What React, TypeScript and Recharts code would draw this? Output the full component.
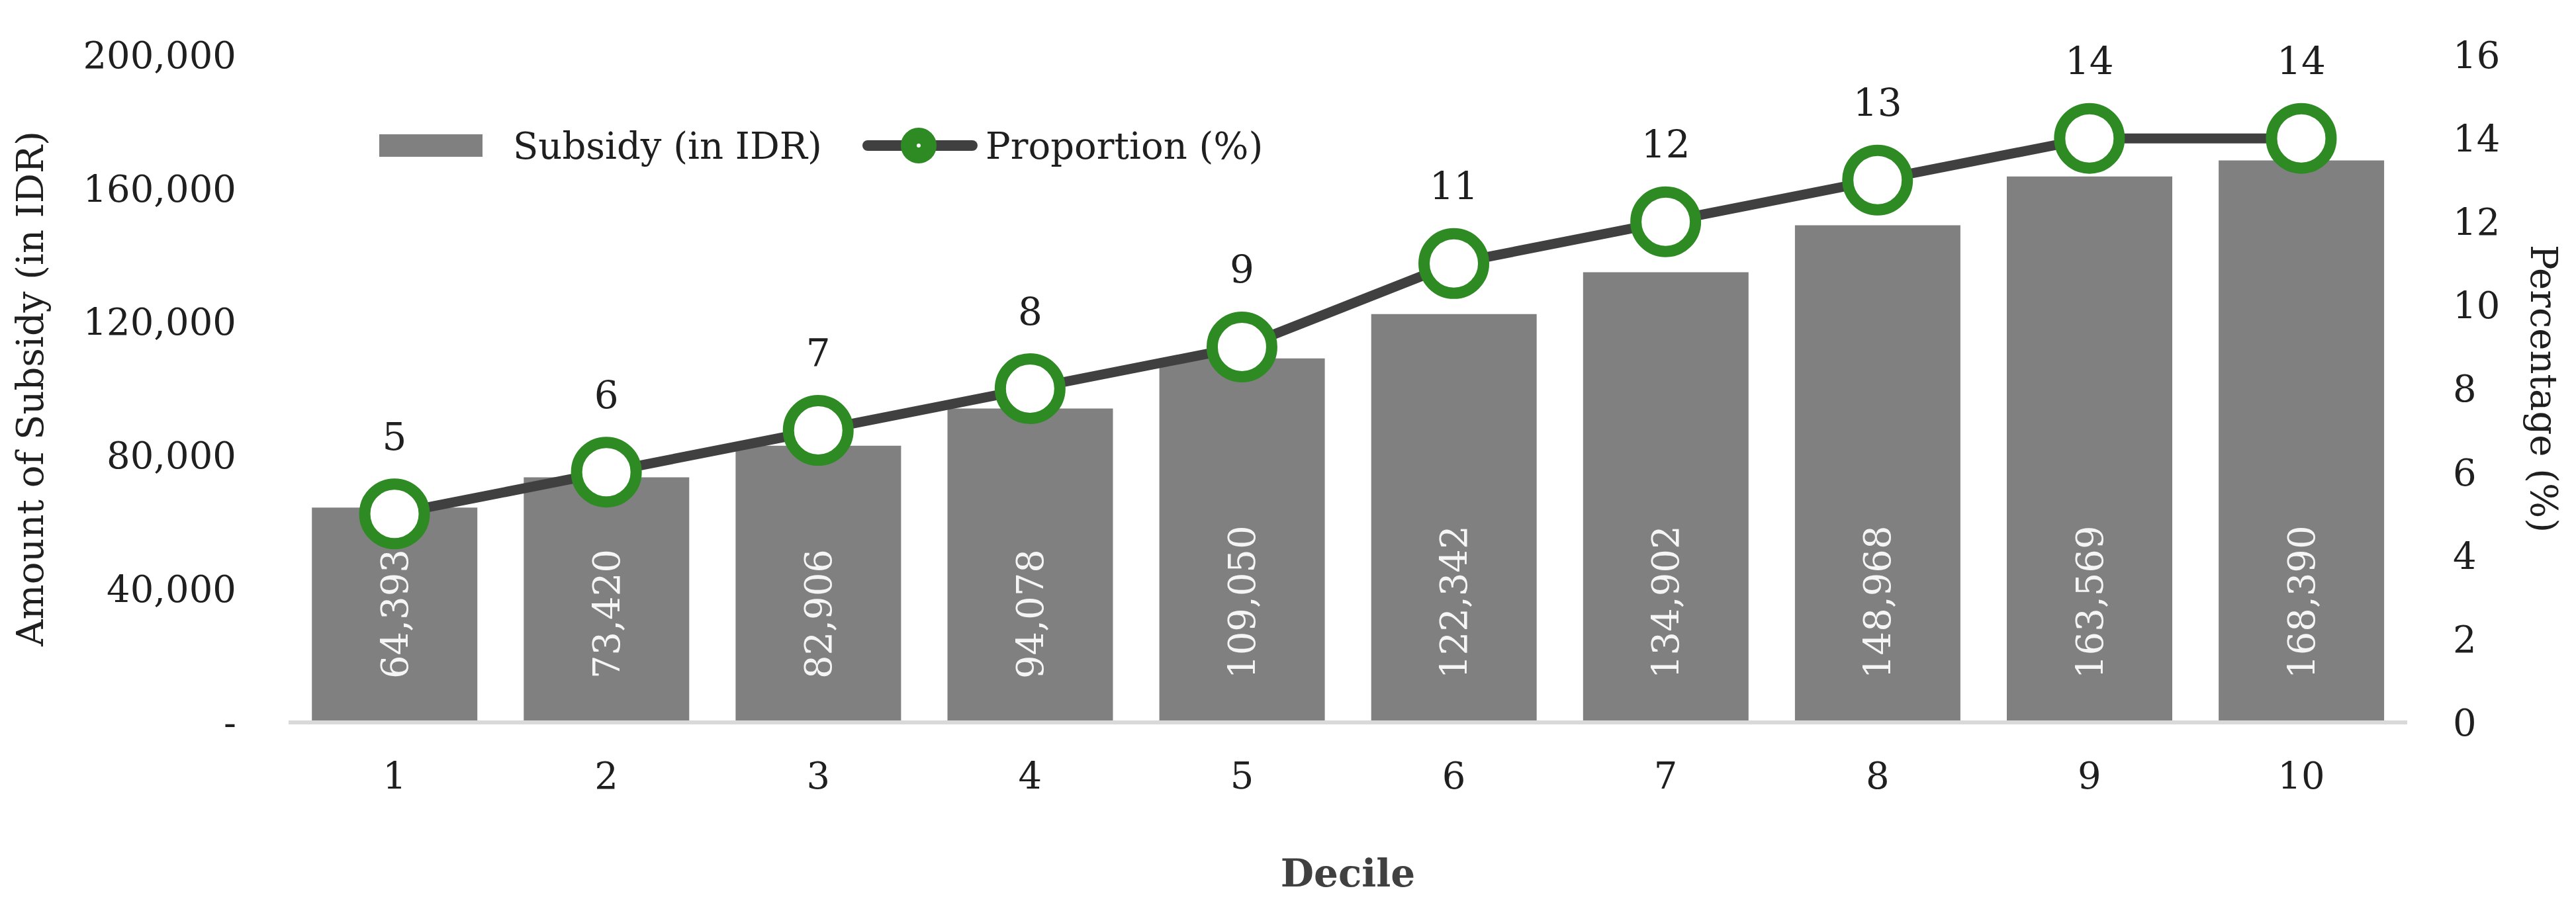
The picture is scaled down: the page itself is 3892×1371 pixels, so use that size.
import React from "react"
import {
  ComposedChart,
  Bar,
  Line,
  XAxis,
  YAxis,
  Legend,
  LabelList,
} from "recharts"

const deciles = ["1", "2", "3", "4", "5", "6", "7", "8", "9", "10"]
const subsidy = [64393, 73420, 82906, 94078, 109050, 122342, 134902, 148968, 163569, 168390]
const proportion = [5, 6, 7, 8, 9, 11, 12, 13, 14, 14]
const leftTicks = [0, 40000, 80000, 120000, 160000, 200000]
const rightTicks = [0, 2, 4, 6, 8, 10, 12, 14, 16]

const FONT = "DejaVu Serif"
const BAR_COLOR = "#808080"
const LINE_COLOR = "#404040"
const GREEN = "#2e8b23"

const data = deciles.map((d, i) => ({
  decile: d,
  subsidy: subsidy[i],
  proportion: proportion[i],
}))

const fmt = (v: number) => (v === 0 ? "-" : v.toLocaleString("en-US"))

function BarValueLabel(props: any) {
  const { x, y, width, height, value } = props
  const cx = x + width / 2
  const base = y + height - 66
  return (
    <text
      x={cx}
      y={base}
      transform={`rotate(-90 ${cx} ${base})`}
      textAnchor="start"
      dominantBaseline="central"
      fill="#f5f5f5"
      fontFamily={FONT}
      fontSize={56}
    >
      {fmt(value)}
    </text>
  )
}

function LineValueLabel(props: any) {
  const { x, y, value } = props
  return (
    <text
      x={x}
      y={y - 117}
      textAnchor="middle"
      dominantBaseline="central"
      fill="#1f1f1f"
      fontFamily={FONT}
      fontSize={58}
    >
      {value}
    </text>
  )
}

// legend drawn in its own svg, laid over the chart
function LegendBox() {
  return (
    <svg width={3892} height={100} style={{ display: "block" }}>
      <rect x={573} y={33} width={156} height={34} fill={BAR_COLOR} />
      <text x={775} y={50} dominantBaseline="central" fontFamily={FONT} fontSize={56} fill="#1f1f1f">
        Subsidy (in IDR)
      </text>
      <line x1={1311} y1={50} x2={1469} y2={50} stroke={LINE_COLOR} strokeWidth={16} strokeLinecap="round" />
      <circle cx={1388} cy={50} r={15} fill="#fff" stroke={GREEN} strokeWidth={24} />
      <text x={1489} y={50} dominantBaseline="central" fontFamily={FONT} fontSize={56} fill="#1f1f1f">
        Proportion (%)
      </text>
    </svg>
  )
}

export default function App() {
  return (
    <div style={{ position: "absolute", left: 0, top: 0, width: 3892, height: 1371, background: "#fff" }}>
      <ComposedChart
        width={3892}
        height={1371}
        data={data}
        margin={{ top: 83, right: 0, bottom: 0, left: 0 }}
        barCategoryGap="11%"
      >
        <XAxis
          dataKey="decile"
          height={279}
          axisLine={{ stroke: "#d9d9d9", strokeWidth: 6 }}
          tickLine={false}
          tickSize={0}
          tickMargin={60}
          tick={{ fontFamily: FONT, fontSize: 56, fill: "#1f1f1f" }}
          label={(p: any) => {
            const vb = p.viewBox
            return (
              <text
                x={vb.x + vb.width / 2}
                y={1320}
                textAnchor="middle"
                dominantBaseline="central"
                fontFamily={FONT}
                fontWeight="bold"
                fontSize={58}
                fill="#404040"
              >
                Decile
              </text>
            )
          }}
        />
        <YAxis
          yAxisId="left"
          width={436}
          domain={[0, 200000]}
          ticks={leftTicks}
          tickFormatter={fmt}
          axisLine={false}
          tickLine={false}
          tickSize={0}
          tickMargin={79}
          tick={{ fontFamily: FONT, fontSize: 56, fill: "#1f1f1f" }}
          label={(p: any) => {
            const vb = p.viewBox
            const cy = vb.y + vb.height / 2
            return (
              <text
                x={45}
                y={cy}
                transform={`rotate(-90 45 ${cy})`}
                textAnchor="middle"
                dominantBaseline="central"
                fontFamily={FONT}
                fontSize={56}
                fill="#1f1f1f"
              >
                Amount of Subsidy (in IDR)
              </text>
            )
          }}
        />
        <YAxis
          yAxisId="right"
          orientation="right"
          width={255}
          domain={[0, 16]}
          ticks={rightTicks}
          axisLine={false}
          tickLine={false}
          tickSize={0}
          tickMargin={69}
          tick={{ fontFamily: FONT, fontSize: 56, fill: "#1f1f1f" }}
          label={(p: any) => {
            const vb = p.viewBox
            const cy = vb.y + vb.height / 2
            return (
              <text
                x={3843}
                y={cy}
                transform={`rotate(90 3843 ${cy})`}
                textAnchor="middle"
                dominantBaseline="central"
                fontFamily={FONT}
                fontSize={56}
                fill="#1f1f1f"
              >
                Percentage (%)
              </text>
            )
          }}
        />
        <Legend
          layout="horizontal"
          verticalAlign="middle"
          align="center"
          wrapperStyle={{ top: 170, left: 0, width: 3892, height: 100 }}
          content={() => <LegendBox />}
        />
        <Bar yAxisId="left" dataKey="subsidy" name="Subsidy (in IDR)" fill={BAR_COLOR} isAnimationActive={false}>
          <LabelList dataKey="subsidy" content={BarValueLabel} />
        </Bar>
        <Line
          yAxisId="right"
          type="linear"
          dataKey="proportion"
          name="Proportion (%)"
          stroke={LINE_COLOR}
          strokeWidth={15}
          dot={{ r: 45, fill: "#fff", stroke: GREEN, strokeWidth: 17 }}
          activeDot={false}
          isAnimationActive={false}
        >
          <LabelList dataKey="proportion" content={LineValueLabel} />
        </Line>
      </ComposedChart>
    </div>
  )
}
